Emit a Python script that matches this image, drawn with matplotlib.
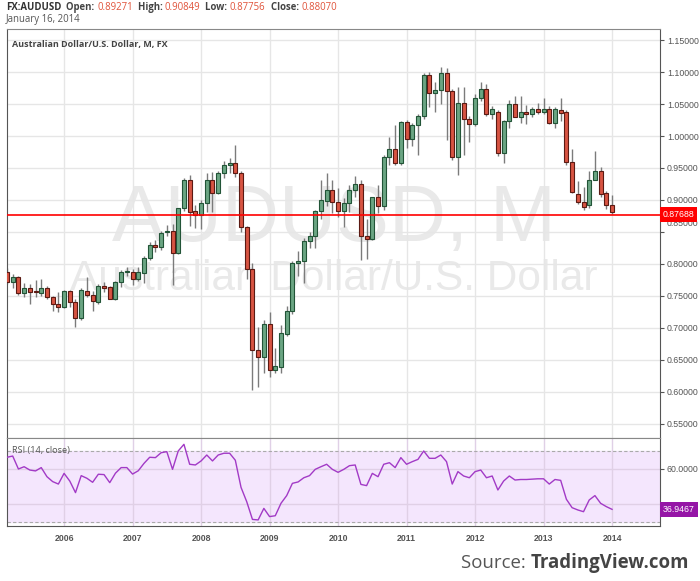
import numpy as np
import pandas as pd
import matplotlib
matplotlib.use("Agg")
import matplotlib.pyplot as plt
from matplotlib import transforms

# monthly AUD/USD candles, Mar 2005 - Jan 2014
months = pd.date_range("2005-03-01", "2014-01-01", freq="MS")

opens = [0.787, 0.772, 0.780, 0.754, 0.762, 0.757, 0.755, 0.762, 0.748, 0.738,
         0.733, 0.758, 0.741, 0.715, 0.758, 0.751, 0.741, 0.766, 0.764, 0.745, 0.772, 0.788,
         0.788, 0.776, 0.786, 0.809, 0.829, 0.827, 0.850, 0.852, 0.817, 0.887, 0.932, 0.883,
         0.877, 0.895, 0.931, 0.911, 0.942, 0.955, 0.958, 0.942, 0.858, 0.792, 0.666, 0.654,
         0.706, 0.634, 0.639, 0.691, 0.726, 0.801, 0.805, 0.836, 0.844, 0.883, 0.899, 0.916,
         0.897, 0.883, 0.896, 0.916, 0.925, 0.844, 0.8395, 0.904, 0.890, 0.967, 0.979, 0.958,
         1.022, 0.996, 1.017, 1.031, 1.095, 1.067, 1.072, 1.098, 1.071, 0.967, 1.052, 1.026,
         1.019, 1.060, 1.073, 1.034, 1.038, 0.973, 1.024, 1.050, 1.030, 1.038, 1.035, 1.042,
         1.038, 1.042, 1.021, 1.0406, 1.038, 0.960, 0.910, 0.897, 0.892, 0.932, 0.945, 0.911,
         0.89271]
highs = [0.794, 0.784, 0.782, 0.771, 0.769, 0.775, 0.776, 0.766, 0.750, 0.757,
         0.760, 0.760, 0.745, 0.762, 0.780, 0.758, 0.768, 0.772, 0.766, 0.774, 0.790, 0.796,
         0.792, 0.796, 0.812, 0.834, 0.838, 0.851, 0.861, 0.862, 0.888, 0.935, 0.939, 0.892,
         0.900, 0.942, 0.943, 0.946, 0.961, 0.965, 0.986, 0.945, 0.860, 0.802, 0.702, 0.712,
         0.725, 0.668, 0.705, 0.735, 0.805, 0.820, 0.840, 0.850, 0.885, 0.932, 0.942, 0.932,
         0.918, 0.903, 0.924, 0.937, 0.932, 0.870, 0.905, 0.924, 0.970, 0.999, 1.017, 1.024,
         1.025, 1.020, 1.035, 1.098, 1.100, 1.085, 1.108, 1.106, 1.073, 1.077, 1.077, 1.031,
         1.066, 1.084, 1.081, 1.047, 1.040, 1.025, 1.057, 1.062, 1.062, 1.048, 1.046, 1.051,
         1.059, 1.047, 1.045, 1.060, 1.040, 0.979, 0.930, 0.920, 0.945, 0.976, 0.951, 0.914,
         0.90849]
lows = [0.768, 0.763, 0.752, 0.749, 0.737, 0.749, 0.750, 0.745, 0.727, 0.725,
        0.731, 0.733, 0.701, 0.712, 0.748, 0.727, 0.738, 0.757, 0.745, 0.743, 0.764, 0.782,
        0.767, 0.774, 0.770, 0.806, 0.818, 0.822, 0.843, 0.767, 0.815, 0.883, 0.860, 0.856,
        0.855, 0.882, 0.881, 0.909, 0.935, 0.942, 0.936, 0.850, 0.776, 0.603, 0.608, 0.630,
        0.624, 0.630, 0.630, 0.687, 0.722, 0.781, 0.771, 0.825, 0.825, 0.870, 0.890, 0.880,
        0.874, 0.858, 0.882, 0.905, 0.807, 0.808, 0.837, 0.879, 0.885, 0.955, 0.955, 0.955,
        0.981, 0.984, 0.970, 1.027, 1.046, 1.038, 1.050, 0.994, 0.962, 0.939, 0.970, 0.990,
        1.016, 1.055, 1.031, 1.026, 0.968, 0.958, 1.012, 1.030, 1.020, 1.018, 1.030, 1.034,
        1.034, 1.019, 1.012, 1.023, 0.955, 0.911, 0.894, 0.885, 0.888, 0.931, 0.905, 0.886,
        0.87756]
closes = [0.772, 0.780, 0.754, 0.762, 0.757, 0.756, 0.762, 0.748, 0.738, 0.733,
          0.758, 0.741, 0.715, 0.759, 0.751, 0.742, 0.766, 0.763, 0.745, 0.772, 0.788, 0.789,
          0.776, 0.787, 0.810, 0.830, 0.827, 0.848, 0.852, 0.817, 0.887, 0.932, 0.882, 0.877,
          0.895, 0.931, 0.911, 0.942, 0.955, 0.958, 0.942, 0.858, 0.792, 0.666, 0.654, 0.706,
          0.634, 0.640, 0.692, 0.726, 0.801, 0.805, 0.836, 0.844, 0.883, 0.900, 0.916, 0.897,
          0.883, 0.896, 0.916, 0.925, 0.844, 0.8395, 0.904, 0.890, 0.967, 0.979, 0.958, 1.022,
          0.996, 1.017, 1.031, 1.095, 1.067, 1.072, 1.098, 1.071, 0.967, 1.052, 1.026, 1.019,
          1.060, 1.073, 1.034, 1.042, 0.973, 1.024, 1.050, 1.030, 1.038, 1.035, 1.042, 1.038,
          1.042, 1.021, 1.042, 1.036, 0.960, 0.912, 0.897, 0.889, 0.932, 0.945, 0.909, 0.892,
          0.88070]

# RSI(14, close), one value per month
rsi = [66.7, 67.4, 60.0, 61.3, 59.4, 58.9, 60.8, 55.6, 52.8, 51.4,
       57.5, 53.1, 46.5, 56.2, 54.7, 52.4, 57.0, 56.8, 52.2, 57.6, 60.8, 60.8,
       57.1, 59.0, 63.2, 66.7, 66.5, 69.3, 69.9, 59.8, 70.3, 74.1, 62.7, 62.3,
       64.6, 68.0, 64.6, 68.0, 69.0, 69.0, 65.0, 49.5, 41.3, 31.2, 30.9, 37.5,
       32.8, 33.3, 40.4, 44.8, 51.8, 52.6, 55.0, 56.2, 59.8, 61.3, 62.7, 59.8,
       58.1, 59.8, 61.9, 62.3, 51.2, 50.5, 57.5, 55.6, 62.7, 63.6, 60.8, 66.5,
       62.7, 64.2, 65.5, 70.3, 66.1, 66.1, 68.0, 64.2, 51.4, 58.5, 56.0, 55.0,
       58.5, 59.4, 55.0, 56.0, 48.0, 53.1, 56.0, 53.7, 54.0, 54.0, 54.2, 54.4,
       54.4, 51.4, 54.0, 53.5, 42.7, 37.9, 36.6, 35.6, 42.3, 44.8, 40.4, 38.5,
       36.9467]

last_price = 0.87688
last_rsi = 36.9467
price_ticks = [0.55, 0.60, 0.65, 0.70, 0.75, 0.80, 0.85, 0.90, 0.95, 1.00, 1.05, 1.10, 1.15]
rsi_ticks = [40, 60]

GREEN = "#6ba583"
GREEN_EDGE = "#225437"
RED = "#d75442"
RED_EDGE = "#5b1a13"
GRID = "#e6e6e6"
AXIS = "#555555"
TEXT = "#555555"
AXFONT = "Liberation Sans"
TSIZE = 6.3

x = np.arange(len(months))
year_pos = [i for i, d in enumerate(months) if d.month == 1]
year_lab = [str(months[i].year) for i in year_pos]

W, H = 700, 581
fig = plt.figure(figsize=(W / 100, H / 100), dpi=100)
fig.patch.set_facecolor("white")


def box(l, t, r, b):
    return [l / W, 1 - b / H, (r - l) / W, (b - t) / H]


ax = fig.add_axes(box(7, 29, 660, 438))
ax_rsi = fig.add_axes(box(7, 438, 660, 526), sharex=ax)

# ---- price panel ----
ax.set_xlim(0, 114.4)
ax.set_ylim(0.5281, 1.1672)

ax.text(0.5, 0.4817, "AUDUSD, M", transform=ax.transAxes, ha="center", va="baseline",
        fontsize=57, family=AXFONT, color="#e9e9e9", zorder=0)
ax.text(0.5, 0.362, "Australian Dollar/U.S. Dollar", transform=ax.transAxes, ha="center",
        va="baseline", fontsize=30.5, family=AXFONT, color="#e9e9e9", zorder=0)

for v in price_ticks:
    ax.axhline(v, color=GRID, lw=1, zorder=1)
for p in year_pos:
    ax.axvline(p, color=GRID, lw=1, zorder=1)

o = np.array(opens)
c = np.array(closes)
up = c >= o
ax.vlines(x, lows, highs, color="#7b7b7b", lw=1, zorder=2)
bottoms = np.minimum(o, c)
heights = np.maximum(np.abs(c - o), 0.0015)
ax.bar(x[up], heights[up], bottom=bottoms[up], width=0.7, color=GREEN,
       edgecolor=GREEN_EDGE, linewidth=0.8, zorder=3)
ax.bar(x[~up], heights[~up], bottom=bottoms[~up], width=0.7, color=RED,
       edgecolor=RED_EDGE, linewidth=0.8, zorder=3)

ax.axhline(last_price, color="#ff0000", lw=1.2, zorder=4)

ax.text(0.008, 0.963, "Australian Dollar/U.S. Dollar, M, FX", transform=ax.transAxes,
        fontsize=6.5, fontweight="bold", family="Open Sans", color="#444444", va="center")

ax.yaxis.tick_right()
ax.set_yticks(price_ticks)
ax.set_yticklabels([f"{v:.5f}" for v in price_ticks])
ax.tick_params(axis="y", direction="out", length=3, width=0.8, color=AXIS, pad=2,
               labelsize=TSIZE, labelcolor=TEXT)
for lab in ax.get_yticklabels():
    lab.set_family(AXFONT)
for t, v in zip(ax.yaxis.get_major_ticks(), price_ticks):
    if abs(v - 0.85) < 1e-9:
        t.label2.set_transform(t.label2.get_transform()
                               + transforms.ScaledTranslation(0, 0.09, fig.dpi_scale_trans))
ax.tick_params(axis="x", length=0, labelbottom=False)

ax.text(1.004, last_price, f"{last_price:.5f}", transform=ax.get_yaxis_transform(),
        ha="left", va="center", fontsize=TSIZE, family=AXFONT, color="white", zorder=6,
        bbox=dict(facecolor="#ff0000", edgecolor="none", pad=2.2), clip_on=False)

for side in ["left", "right"]:
    ax.spines[side].set_color(AXIS)
ax.spines["top"].set_color("#888888")
ax.spines["bottom"].set_color("#888888")

# ---- RSI panel ----
ax_rsi.set_ylim(27.43, 77.71)
ax_rsi.axhspan(30, 70, color="#f4e6fd", zorder=0)
for v in rsi_ticks:
    ax_rsi.axhline(v, color="#e0d0e6", lw=1, zorder=1)
for p in year_pos:
    ax_rsi.axvline(p, color="#e0d0e6", lw=1, zorder=1)
for v in [30, 70]:
    ax_rsi.axhline(v, color="#aaaaaa", lw=0.8, ls=(0, (3, 2)), zorder=2)
ax_rsi.plot(x, rsi, color="#a23ac6", lw=1, zorder=3)

ax_rsi.text(0.008, 0.86, "RSI (14, close)", transform=ax_rsi.transAxes, fontsize=6.6,
            family="Open Sans", color="#555555", va="center")

ax_rsi.yaxis.tick_right()
ax_rsi.set_yticks(rsi_ticks)
ax_rsi.set_yticklabels([f"{v:.4f}" for v in rsi_ticks])
ax_rsi.tick_params(axis="y", direction="out", length=3, width=0.8, color=AXIS, pad=2,
                   labelsize=TSIZE, labelcolor=TEXT)
ax_rsi.set_xticks(year_pos)
ax_rsi.set_xticklabels(year_lab)
ax_rsi.tick_params(axis="x", length=0, pad=6, labelsize=TSIZE, labelcolor=TEXT)
for lab in ax_rsi.get_yticklabels():
    lab.set_family(AXFONT)
for lab in ax_rsi.get_xticklabels():
    lab.set_family(AXFONT)
    lab.set_fontweight("bold")

ax_rsi.text(1.004, last_rsi, f"{last_rsi:.4f}", transform=ax_rsi.get_yaxis_transform(),
            ha="left", va="center", fontsize=TSIZE, family=AXFONT, color="white", zorder=6,
            bbox=dict(facecolor="#9515a6", edgecolor="none", pad=2.2), clip_on=False)

for side in ["left", "right", "bottom"]:
    ax_rsi.spines[side].set_color(AXIS)
ax_rsi.spines["top"].set_color("#888888")

# ---- header and source ----
renderer = fig.canvas.get_renderer()


def put_runs(x0, y0, runs, size, family):
    xp = x0
    for s, color, weight in runs:
        t = fig.text(xp / W, 1 - y0 / H, s, color=color, fontweight=weight, fontsize=size,
                     family=family, va="baseline", ha="left")
        xp += t.get_window_extent(renderer).width
    return xp


header = [("FX:AUDUSD", "#333333", "bold"), ("  Open: ", "#444444", "bold"),
          ("0.89271", "#e0533a", "normal"), ("  High: ", "#444444", "bold"),
          ("0.90849", "#e0533a", "normal"), ("  Low: ", "#444444", "bold"),
          ("0.87756", "#e0533a", "normal"), ("  Close: ", "#444444", "bold"),
          ("0.88070", "#e0533a", "normal")]
put_runs(6, 10, header, 6.9, "Open Sans")
fig.text(6 / W, 1 - 22 / H, "January 16, 2014", fontsize=6.9, family="Open Sans",
         color="#555555", va="baseline")

src = fig.text(689 / W, 1 - 568 / H, "TradingView.com", fontsize=13.4, family="Open Sans",
               fontweight="bold", color="#444444", ha="right", va="baseline")
bb = src.get_window_extent(renderer)
fig.text(bb.x0 / W, 1 - 568 / H, "Source: ", fontsize=13.4, family="Open Sans",
         color="#555555", ha="right", va="baseline")

fig.savefig("out.png", dpi=100, facecolor="white")
